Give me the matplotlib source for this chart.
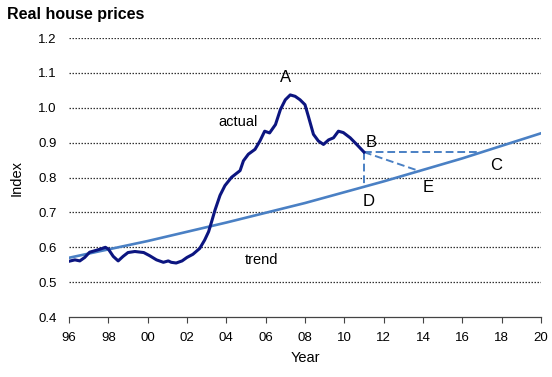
import matplotlib
matplotlib.use("Agg")
import matplotlib.pyplot as plt

plt.rcParams['font.family'] = ['Liberation Sans', 'DejaVu Sans']

# ---- data ----
actual_years = [1996.0, 1996.3, 1996.55, 1996.8, 1997.05, 1997.3, 1997.6, 1997.85,
                1998.0, 1998.25, 1998.5, 1998.75, 1999.0, 1999.35, 1999.8, 2000.1,
                2000.45, 2000.8, 2001.05, 2001.2, 2001.45, 2001.75, 2002.0, 2002.3,
                2002.65, 2002.9, 2003.1, 2003.25, 2003.42, 2003.68, 2003.93, 2004.27,
                2004.7, 2004.87, 2005.12, 2005.46, 2005.71, 2005.95, 2006.2, 2006.5,
                2006.75, 2007.0, 2007.25, 2007.5, 2007.75, 2008.0, 2008.17, 2008.43,
                2008.68, 2008.94, 2009.2, 2009.45, 2009.7, 2009.95, 2010.3, 2010.63,
                2011.0]
actual_values = [0.560, 0.564, 0.561, 0.571, 0.586, 0.590, 0.595, 0.600,
                 0.595, 0.574, 0.561, 0.574, 0.585, 0.588, 0.585, 0.576,
                 0.564, 0.557, 0.561, 0.557, 0.555, 0.561, 0.571, 0.580,
                 0.597, 0.621, 0.645, 0.673, 0.706, 0.749, 0.777, 0.801,
                 0.820, 0.848, 0.867, 0.881, 0.905, 0.933, 0.928, 0.952,
                 0.995, 1.023, 1.037, 1.033, 1.023, 1.009, 0.976, 0.924,
                 0.905, 0.895, 0.908, 0.914, 0.933, 0.929, 0.914, 0.895,
                 0.873]

trend_years = [1996, 2000, 2004, 2008, 2012, 2016, 2020]
trend_values = [0.570, 0.618, 0.671, 0.727, 0.789, 0.855, 0.927]

# dashed adjustment paths from point B
bc_years = [2011.0, 2016.8]
bc_values = [0.873, 0.873]
be_years = [2011.0, 2013.85]
be_values = [0.873, 0.818]
bd_years = [2011.0, 2011.0]
bd_values = [0.873, 0.771]

x_ticks = list(range(1996, 2021, 2))
x_tick_labels = ['96', '98', '00', '02', '04', '06', '08', '10', '12', '14', '16', '18', '20']
y_ticks = [0.4, 0.5, 0.6, 0.7, 0.8, 0.9, 1.0, 1.1, 1.2]
y_tick_labels = ['0.4', '0.5', '0.6', '0.7', '0.8', '0.9', '1.0', '1.1', '1.2']

labels = ['A', 'B', 'C', 'D', 'E', 'actual', 'trend']
label_years = [2007.03, 2011.35, 2017.7, 2011.25, 2014.25, 2004.6, 2005.8]
label_values = [1.088, 0.900, 0.834, 0.732, 0.772, 0.958, 0.565]

# ---- figure ----
fig = plt.figure(figsize=(5.52, 3.77), dpi=100)
ax = fig.add_axes([0.125, 0.159, 0.855, 0.740])

navy = '#0c1580'
blue = '#4a80c4'

for yv in y_ticks[1:]:
    ax.axhline(yv, color='#333333', lw=0.9, ls=(0, (1.2, 1.2)), zorder=1)

ax.plot(trend_years, trend_values, color=blue, lw=1.9, zorder=3)
ax.plot(actual_years, actual_values, color=navy, lw=2.2, zorder=4,
        solid_joinstyle='round')
for xs, ys in [(bc_years, bc_values), (be_years, be_values), (bd_years, bd_values)]:
    ax.plot(xs, ys, color=blue, lw=1.4, ls=(0, (4, 2)), zorder=3)

for t, xv, yv in zip(labels, label_years, label_values):
    fs = 10.5 if t in ('actual', 'trend') else 12
    ax.text(xv, yv, t, ha='center', va='center', fontsize=fs, color='black', zorder=5)

ax.set_xlim(1996, 2020)
ax.set_ylim(0.4, 1.2)
ax.set_xticks(x_ticks)
ax.set_xticklabels(x_tick_labels)
ax.set_yticks(y_ticks)
ax.set_yticklabels(y_tick_labels)
ax.tick_params(axis='x', direction='out', length=4, width=0.8, color='#444444',
               labelsize=9.5, pad=7)
ax.tick_params(axis='y', length=0, labelsize=9.5, pad=9)

for s in ['top', 'right', 'left']:
    ax.spines[s].set_visible(False)
ax.spines['bottom'].set_color('#444444')
ax.spines['bottom'].set_linewidth(0.9)

ax.set_xlabel('Year', fontsize=10.5, labelpad=5)
ax.set_ylabel('Index', fontsize=10.5, labelpad=10)

fig.text(0.012, 0.962, 'Real house prices', fontsize=11.5, fontweight='bold',
         ha='left', va='center')

fig.savefig('out.png', dpi=100)
